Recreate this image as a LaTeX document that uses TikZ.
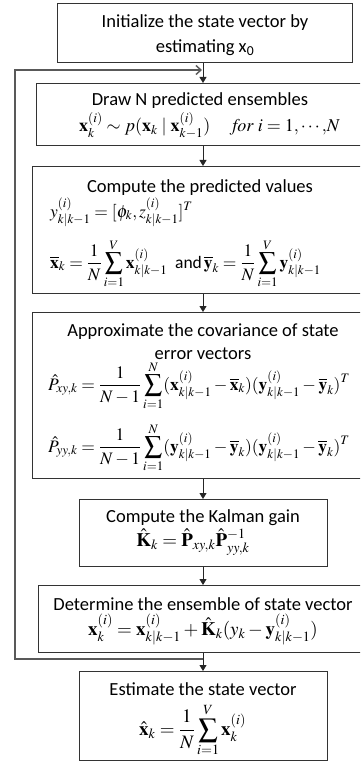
\documentclass[tikz,border=0pt]{standalone}
\usepackage{amsmath}
\usepackage{mathptmx}
\usepackage[no-math]{fontspec}
\setmainfont{Carlito}
\usetikzlibrary{arrows.meta}
\newcommand\myfs{\fontsize{18.5}{24}\selectfont}
\newcommand\mfsa{\fontsize{17.5}{22}\selectfont}
\newcommand\mfsb{\fontsize{19}{23}\selectfont}
\begin{document}
\begin{tikzpicture}[x=1pt,y=-1pt,
  box/.style={draw=black!80,line width=1pt,inner sep=0pt,anchor=north west},
  txt/.style={font=\myfs,inner sep=0pt,anchor=base},
  ltxt/.style={font=\mfsa,inner sep=0pt,anchor=base west},
  btxt/.style={font=\mfsb,inner sep=0pt,anchor=base},
  arr/.style={draw=black!85,line width=1pt,-{Triangle[length=6pt,width=7pt]}},
  loopl/.style={draw=black!65,line width=1.4pt}]
\useasboundingbox (0,0) rectangle (360,762);
\clip (0,0) rectangle (360,762);
% boxes
\node[box,minimum width=295pt,minimum height=59pt] (b1) at (57,3) {};
\node[box,minimum width=334pt,minimum height=62pt] (b2) at (36,83) {};
\node[box,minimum width=342pt,minimum height=127pt] (b3) at (32,166) {};
\node[box,minimum width=342pt,minimum height=166pt] (b4) at (32,312) {};
\node[box,minimum width=248pt,minimum height=67pt] (b5) at (79,499) {};
\node[box,minimum width=330pt,minimum height=67pt] (b6) at (38,585) {};
\node[box,minimum width=248pt,minimum height=89pt] (b7) at (79,671) {};
% texts
\node[txt] (t1a) at (205,28) {Initialize the state vector by};
\node[txt] (t1b) at (205,53) {estimating x\textsubscript{0}};
\node[txt] (t2) at (200,106) {Draw N predicted ensembles};
\node[btxt,font=\fontsize{18}{22}\selectfont,anchor=base west] (f2) at (79,132) {$\mathbf{x}_k^{(i)}\sim p(\mathbf{x}_k\mid\mathbf{x}_{k-1}^{(i)})\quad\ \mathit{for}\ i=1{,}\cdots{,}N$};
\node[txt] (t3) at (200,192) {Compute the predicted values};
\node[ltxt] (f3a) at (50,217) {$y_{k|k-1}^{(i)}=[\phi_k,z_{k|k-1}^{(i)}]^T$};
\node[ltxt] (f3b) at (50,268) {$\displaystyle\overline{\mathbf{x}}_k=\frac{1}{N}\sum_{i=1}^{V}\mathbf{x}_{k|k-1}^{(i)}\ \ \text{and}\,\overline{\mathbf{y}}_k=\frac{1}{N}\sum_{i=1}^{V}\mathbf{y}_{k|k-1}^{(i)}$};
\node[txt] (t4a) at (203,336) {Approximate the covariance of state};
\node[txt] (t4b) at (203,359) {error vectors};
\node[ltxt] (f4a) at (48,390) {$\displaystyle\hat{P}_{xy,k}=\frac{1}{N-1}\sum_{i=1}^{N}(\mathbf{x}_{k|k-1}^{(i)}-\overline{\mathbf{x}}_k)(\mathbf{y}_{k|k-1}^{(i)}-\overline{\mathbf{y}}_k)^T$};
\node[ltxt] (f4b) at (48,452) {$\displaystyle\hat{P}_{yy,k}=\frac{1}{N-1}\sum_{i=1}^{N}(\mathbf{y}_{k|k-1}^{(i)}-\overline{\mathbf{y}}_k)(\mathbf{y}_{k|k-1}^{(i)}-\overline{\mathbf{y}}_k)^T$};
\node[txt] (t5) at (203,522) {Compute the Kalman gain};
\node[btxt] (f5) at (193,546) {$\hat{\mathbf{K}}_k=\hat{\mathbf{P}}_{xy,k}\hat{\mathbf{P}}_{yy,k}^{-1}$};
\node[txt] (t6) at (203,610) {Determine the ensemble of state vector};
\node[btxt] (f6) at (203,635) {$\mathbf{x}_k^{(i)}=\mathbf{x}_{k|k-1}^{(i)}+\hat{\mathbf{K}}_k(y_k-\mathbf{y}_{k|k-1}^{(i)})$};
\node[txt] (t7) at (203,695) {Estimate the state vector};
\node[btxt,anchor=base west] (f7) at (139,735) {$\displaystyle\hat{\mathbf{x}}_k=\frac{1}{N}\sum_{i=1}^{V}\mathbf{x}_k^{(i)}$};
% connectors
\coordinate (ax) at (203,0);
\coordinate (lt) at (15,70);
\coordinate (lb) at (15,659);
\draw[arr] (b1.south -| ax) -- (b2.north -| ax);
\draw[arr] (b2.south -| ax) -- (b3.north -| ax);
\draw[arr] (b3.south -| ax) -- (b4.north -| ax);
\draw[arr] (b4.south -| ax) -- (b5.north -| ax);
\draw[arr] (b5.south -| ax) -- (b6.north -| ax);
\draw[arr] (b6.south -| ax) -- (b7.north -| ax);
\draw[loopl,-{Straight Barb[length=5pt,width=9pt]}] (ax |- lb) -- (lb) -- (lt) -- ([xshift=-1pt]ax |- lt);
\end{tikzpicture}
\end{document}
